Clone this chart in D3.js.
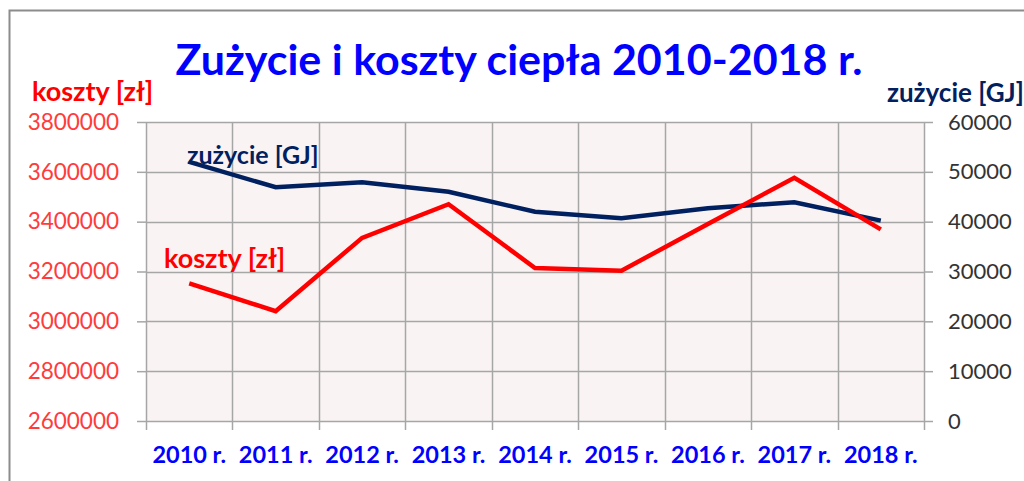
<!DOCTYPE html>
<html>
<head>
<meta charset="utf-8">
<script src="https://cdn.jsdelivr.net/npm/d3@7/dist/d3.min.js"></script>
<style>
  body { margin: 0; background: #fff; }
  svg { display: block; font-family: Lato, 'Open Sans', sans-serif; }
</style>
</head>
<body>
<div id="chart"></div>
<script>
// data
var years = ['2010 r.', '2011 r.', '2012 r.', '2013 r.', '2014 r.', '2015 r.', '2016 r.', '2017 r.', '2018 r.'];
var koszty = [3152000, 3041000, 3335000, 3470000, 3214000, 3203000, 3391000, 3576000, 3369000];
var zuzycie = [52000, 46900, 47900, 46000, 42000, 40700, 42700, 43900, 40200];
var kosztyTicks = [2600000, 2800000, 3000000, 3200000, 3400000, 3600000, 3800000];
var zuzycieTicks = [0, 10000, 20000, 30000, 40000, 50000, 60000];

var width = 1024, height = 481;
var margin = {left: 146, right: 100, top: 122, bottom: 60};
var w = width - margin.left - margin.right, h = height - margin.top - margin.bottom;

var svg = d3.select('#chart').append('svg').attr('width', width).attr('height', height);

// outer frame (runs off the right / bottom edge)
svg.append('rect').attr('x', 9.5).attr('y', 10.5).attr('width', 1100).attr('height', 600)
  .attr('fill', 'none').attr('stroke', '#8c8c8c').attr('stroke-width', 2);

svg.append('text').attr('x', 519).attr('y', 75).attr('text-anchor', 'middle')
  .attr('font-size', 42).attr('font-weight', 'bold').attr('fill', '#0000ff')
  .attr('textLength', 687).attr('lengthAdjust', 'spacingAndGlyphs')
  .text('Zużycie i koszty ciepła 2010-2018 r.');

var g = svg.append('g').attr('transform', 'translate(' + margin.left + ',' + margin.top + ')');

var x = d3.scaleBand().domain(years).range([0, w]);
var yl = d3.scaleLinear().domain([2600000, 3800000]).range([h, 0]);
var yr = d3.scaleLinear().domain([0, 60000]).range([h, 0]);

g.append('rect').attr('width', w).attr('height', h).attr('fill', '#f9f3f3');

// grid
g.selectAll('.hgrid').data(kosztyTicks).enter().append('line')
  .attr('x1', 0).attr('x2', w).attr('y1', d => Math.round(yl(d)) + 0.5).attr('y2', d => Math.round(yl(d)) + 0.5)
  .attr('stroke', '#a6a6a6').attr('stroke-width', 1.5);
var edges = years.map(d => x(d)).concat([w]);
g.selectAll('.vgrid').data(edges).enter().append('line')
  .attr('x1', d => Math.round(d) + 0.5).attr('x2', d => Math.round(d) + 0.5).attr('y1', 0).attr('y2', h + 9)
  .attr('stroke', '#a6a6a6').attr('stroke-width', 1.5);

// axes
var left = g.append('g').call(d3.axisLeft(yl).tickValues(kosztyTicks).tickFormat(d3.format('d')).tickSize(9).tickPadding(18).tickSizeOuter(0));
left.select('.domain').remove();
left.selectAll('line').attr('stroke', '#a6a6a6').attr('stroke-width', 1.5);
left.selectAll('text').attr('font-size', 22.5).attr('fill', '#ff3b3b').attr('font-family', 'Lato, sans-serif');

var right = g.append('g').attr('transform', 'translate(' + w + ',0)')
  .call(d3.axisRight(yr).tickValues(zuzycieTicks).tickFormat(d3.format('d')).tickSize(9).tickPadding(15).tickSizeOuter(0));
right.select('.domain').remove();
right.selectAll('line').attr('stroke', '#a6a6a6').attr('stroke-width', 1.5);
right.selectAll('text').attr('font-size', 22).attr('fill', '#333').attr('font-family', 'Lato, sans-serif');

var bottom = g.append('g').attr('transform', 'translate(0,' + h + ')')
  .call(d3.axisBottom(x).tickSize(0).tickPadding(25));
bottom.select('.domain').remove();
bottom.selectAll('text').attr('font-size', 23.5).attr('font-weight', 'bold').attr('fill', '#0000ff').attr('font-family', 'Lato, sans-serif');

// lines
var lineL = d3.line().x((d, i) => x(years[i]) + x.bandwidth() / 2).y(d => yl(d));
var lineR = d3.line().x((d, i) => x(years[i]) + x.bandwidth() / 2).y(d => yr(d));
g.append('path').datum(zuzycie).attr('d', lineR).attr('fill', 'none').attr('stroke', '#002060').attr('stroke-width', 4.5);
g.append('path').datum(koszty).attr('d', lineL).attr('fill', 'none').attr('stroke', '#ff0000').attr('stroke-width', 4.5);

// series labels
svg.append('text').attr('x', 187).attr('y', 164).attr('font-size', 25).attr('font-weight', 'bold').attr('fill', '#002060').text('zużycie [GJ]');
svg.append('text').attr('x', 164).attr('y', 268).attr('font-size', 27).attr('font-weight', 'bold').attr('fill', '#ff0000').text('koszty [zł]');

// axis titles
svg.append('text').attr('x', 32).attr('y', 101).attr('font-size', 27).attr('font-weight', 'bold').attr('fill', '#ff0000').text('koszty [zł]');
svg.append('text').attr('x', 887).attr('y', 102).attr('font-size', 26).attr('font-weight', 'bold').attr('fill', '#002060').text('zużycie [GJ]');
</script>
</body>
</html>
